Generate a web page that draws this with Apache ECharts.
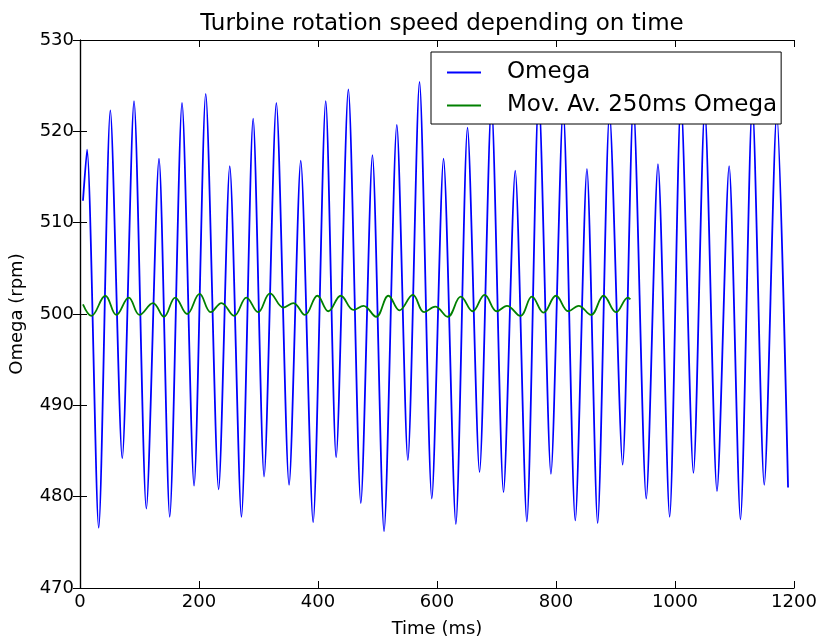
<!DOCTYPE html>
<html>
<head>
<meta charset="utf-8">
<script src="https://cdn.jsdelivr.net/npm/echarts@6/dist/echarts.min.js"></script>
<style>
  html, body { margin: 0; padding: 0; background: #fff; }
  #main { width: 822px; height: 643px; }
</style>
</head>
<body>
<div id="main"></div>
<script>
// turbine speed (peaks / troughs)
var omegaTime = [5, 11.8, 31.4, 51, 71, 90.8, 111.5, 132.8, 150.8, 171.5, 191.7, 211.3, 233, 251.7, 271.3, 291,
  309.4, 330, 351.4, 371, 391.8, 413, 430.5, 451, 472, 491.5, 511, 532.5, 551, 570.6, 591.3, 611,
  631.7, 651.3, 671.5, 691.5, 711.8, 731.5, 751, 771, 791.5, 812, 832.4, 852, 870, 890,
  912, 930, 951.7, 971.4, 991, 1010, 1031, 1050, 1070.6, 1091, 1110, 1130, 1150, 1171, 1190];
var omega = [512.4, 518.0, 476.6, 522.3, 484.2, 523.3, 478.7, 517.0, 477.8, 523.1, 481.2, 524.1, 480.8, 516.2, 477.8, 521.4,
  482.2, 523.1, 481.3, 516.8, 477.2, 523.3, 484.3, 524.6, 479.3, 517.4, 476.2, 520.7, 484.0, 525.4, 479.8, 517.0,
  477.0, 520.4, 482.7, 523.0, 480.5, 515.7, 477.3, 524.0, 482.5, 522.5, 477.4, 515.9, 477.1, 522.0,
  483.5, 523.0, 479.8, 516.4, 477.8, 523.5, 482.6, 522.5, 480.6, 516.2, 477.5, 523.0, 481.3, 522.0, 481.0];

// moving average 250ms
var avgTime = [5, 19, 42.6, 61, 82, 100, 122.7, 141, 160, 180, 201, 219.7, 237.7, 259, 279.7, 299.3,
  319.5, 342, 358.7, 378, 399, 417.5, 438.3, 459.6, 476.4, 497.7, 518.4, 537, 559.4, 578.4, 597, 618,
  640, 660, 680, 700.6, 717.5, 740, 759.5, 779, 800, 821, 838, 858.7, 880, 900.8, 921, 925];
var avgOmega = [501.05, 499.8, 502.0, 499.9, 501.8, 499.9, 501.2, 499.7, 501.8, 500.0, 502.2, 500.2, 501.2, 499.8, 501.8, 500.2,
  502.25, 500.7, 501.2, 499.9, 502.0, 500.3, 502.0, 500.45, 500.9, 499.7, 502.0, 500.4, 502.1, 500.2, 500.8, 499.7,
  501.9, 500.3, 502.1, 500.3, 500.9, 499.8, 501.9, 500.15, 502.0, 500.3, 500.9, 499.9, 502.0, 500.2, 501.8, 501.6];

var xTicks = { min: 0, max: 1200, interval: 200 };
var yTicks = { min: 470, max: 530, interval: 10 };

function pairs(xs, ys) {
  return xs.map(function (x, i) { return [x, ys[i]]; });
}

var font = 'DejaVu Sans';
var frame = { show: true, lineStyle: { color: '#000', width: 1.2 } };
var ticksIn = { show: true, inside: true, length: 7, lineStyle: { color: '#000', width: 1 } };

var myChart = echarts.init(document.getElementById('main'));
var option = {
  animation: false,
  backgroundColor: '#fff',
  textStyle: { fontFamily: font },
  title: {
    text: 'Turbine rotation speed depending on time',
    left: 437,
    top: 8,
    textAlign: 'center',
    textStyle: { fontFamily: font, fontSize: 23, fontWeight: 'normal', color: '#000' }
  },
  grid: { left: 80, right: 28, top: 40, bottom: 50 },
  legend: {
    orient: 'vertical',
    left: 431,
    top: 52,
    padding: [9, 4, 7, 16],
    itemGap: 10,
    itemWidth: 34,
    itemHeight: 2,
    icon: 'rect',
    backgroundColor: '#fff',
    borderColor: '#000',
    borderWidth: 1,
    borderRadius: 0,
    textStyle: { fontFamily: font, fontSize: 23, color: '#000', padding: [0, 0, 0, 21] },
    data: ['Omega', 'Mov. Av. 250ms Omega']
  },
  xAxis: [
    {
      type: 'value', min: xTicks.min, max: xTicks.max, interval: xTicks.interval,
      position: 'bottom',
      name: 'Time (ms)', nameLocation: 'middle', nameGap: 32,
      nameTextStyle: { fontFamily: font, fontSize: 18, color: '#000' },
      axisLine: frame, axisTick: ticksIn,
      axisLabel: { fontFamily: font, fontSize: 18, color: '#000', margin: 5,
        formatter: function (v) { return String(v); } },
      splitLine: { show: false }
    },
    {
      type: 'value', min: xTicks.min, max: xTicks.max, interval: xTicks.interval,
      position: 'top',
      axisLine: frame, axisTick: ticksIn,
      axisLabel: { show: false }, splitLine: { show: false }
    }
  ],
  yAxis: [
    {
      type: 'value', min: yTicks.min, max: yTicks.max, interval: yTicks.interval,
      position: 'left',
      name: 'Omega (rpm)', nameLocation: 'middle', nameGap: 54,
      nameTextStyle: { fontFamily: font, fontSize: 18, color: '#000' },
      axisLine: frame, axisTick: ticksIn,
      axisLabel: { fontFamily: font, fontSize: 18, color: '#000', margin: 6 },
      splitLine: { show: false }
    },
    {
      type: 'value', min: yTicks.min, max: yTicks.max, interval: yTicks.interval,
      position: 'right',
      axisLine: frame, axisTick: ticksIn,
      axisLabel: { show: false }, splitLine: { show: false }
    }
  ],
  series: [
    {
      name: 'Omega',
      type: 'line',
      data: pairs(omegaTime, omega),
      showSymbol: false,
      smooth: 0.25,
      color: '#0000ff',
      lineStyle: { color: '#0000ff', width: 1.8 },
      z: 2
    },
    {
      name: 'Mov. Av. 250ms Omega',
      type: 'line',
      data: pairs(avgTime, avgOmega),
      showSymbol: false,
      smooth: 0.4,
      color: '#008000',
      lineStyle: { color: '#008000', width: 1.8 },
      z: 3
    }
  ]
};
myChart.setOption(option);
</script>
</body>
</html>
